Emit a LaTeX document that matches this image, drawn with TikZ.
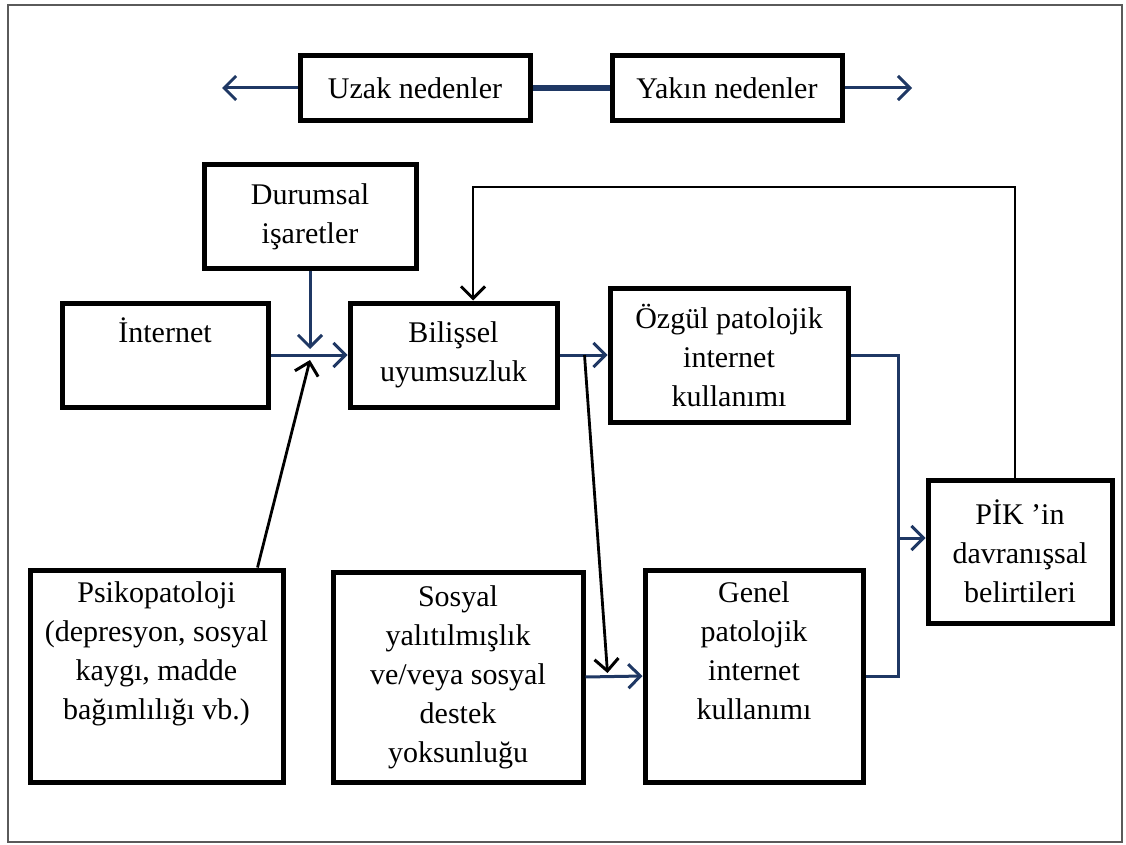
\documentclass[tikz,border=0pt]{standalone}
\usepackage{fontspec}
\setmainfont{Liberation Serif}
\usetikzlibrary{arrows.meta}
\definecolor{navy}{RGB}{31,56,100}
\definecolor{framegray}{RGB}{90,90,90}
\tikzset{
  box/.style={draw, line width=5pt, inner sep=0pt, align=center,
    font=\fontsize{30}{39}\selectfont},
  navyline/.style={draw=navy, line width=3pt},
  blkline/.style={draw=black, line width=2.8pt},
  tip/.style={-{Straight Barb[length=12pt,width=24pt,line width=3pt]}}
}
\begin{document}
\begin{tikzpicture}[x=1pt,y=-1pt]
\useasboundingbox (0,0) rectangle (1126,845);
\draw[framegray, line width=2.5pt] (8,5) rectangle (1122,842);

% top row
\node[box, minimum width=230, minimum height=65] (uzak) at (415,88) {Uzak nedenler};
\node[box, minimum width=230, minimum height=65] (yak) at (727,88) {Yakın nedenler};
\coordinate (la) at (222,88);
\coordinate (ra) at (912,88);
\draw[navyline, tip] (uzak.west) -- (la);
\draw[navy, line width=6pt] (uzak.east) -- (yak.west);
\draw[navyline, tip] (yak.east) -- (ra);

% boxes
\node[box, minimum width=212, minimum height=103] (dur) at (310,216.5) {Durumsal\\işaretler};
\node[box, minimum width=206, minimum height=104] (int) at (165,355) {İnternet\\\strut};
\node[box, minimum width=207, minimum height=104] (bil) at (453.5,355) {Bilişsel\\uyumsuzluk};
\node[box, minimum width=238, minimum height=134] (ozg) at (729,355) {Özgül patolojik\\internet\\kullanımı};
\node[box, minimum width=184, minimum height=143] (pik) at (1020,551.5) {PİK ’in\\davranışsal\\belirtileri};
\node[box, minimum width=253, minimum height=212] (psi) at (156.5,676) {Psikopatoloji\\(depresyon, sosyal\\kaygı, madde\\bağımlılığı vb.)\\\strut};
\node[box, minimum width=250, minimum height=210] (sos) at (458,677) {Sosyal\\yalıtılmışlık\\ve/veya sosyal\\destek\\yoksunluğu};
\node[box, minimum width=218, minimum height=212] (gen) at (754,676) {Genel\\patolojik\\internet\\kullanımı\\\strut};

% junction into Bilişsel
\coordinate (jt) at (310,349);
\coordinate (jb) at (310,360);
\draw[navyline, tip] (int.east) -- (bil.west);
\draw[navyline, tip] (dur.south) -- (jt);
\draw[blkline, tip] ([xshift=-28pt]psi.north east) -- (jb);

% Bilişsel outputs
\draw[navyline, tip] (bil.east) -- (ozg.west);
\draw[blkline, tip] ([xshift=25pt]bil.east) -- ([xshift=-35pt,yshift=3pt]gen.west);
\draw[navyline, tip] (sos.east) -- (gen.west);

% bus to PİK
\coordinate (bus) at (898,538);
\draw[navyline] (ozg.east) -| (bus) |- (gen.east);
\draw[navyline, tip] (bus) -- (bus -| pik.west);

% feedback
\coordinate (fb) at (473,187);
\draw[blkline, tip] ([xshift=-5pt]pik.north) |- (fb) -- (fb |- bil.north);
\end{tikzpicture}
\end{document}
